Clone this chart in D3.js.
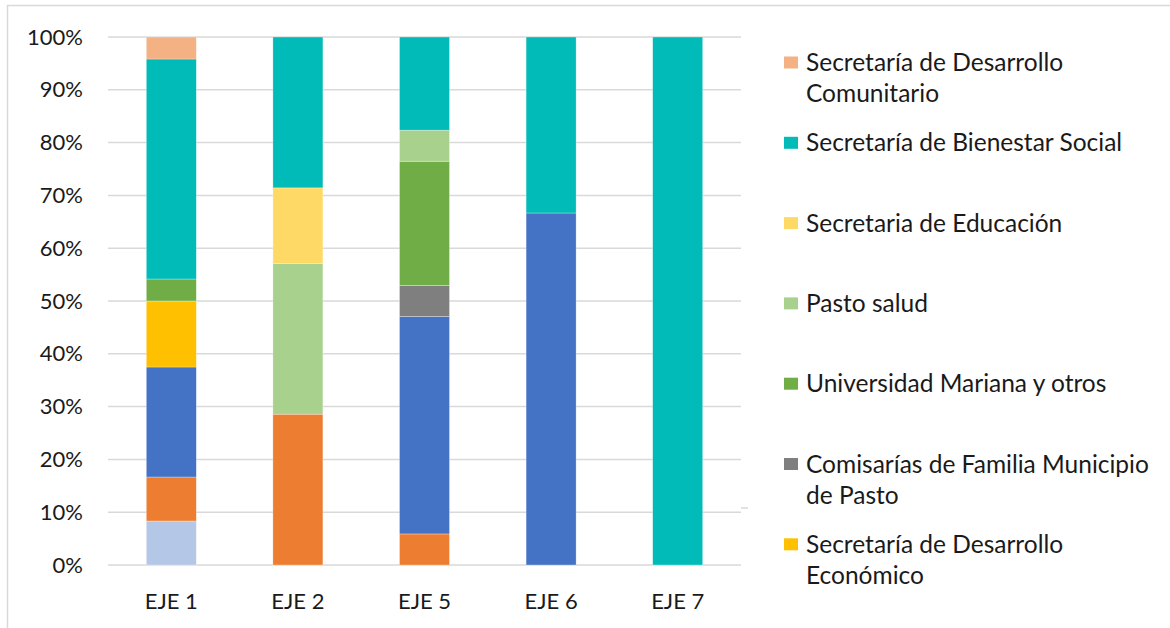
<!DOCTYPE html>
<html>
<head>
<meta charset="utf-8">
<style>
  body { margin: 0; background: white; }
  svg text { font-family: Lato, "Open Sans", sans-serif; fill: #1a1a1a; }
</style>
</head>
<body>
<svg width="1170" height="628"></svg>
<script src="https://cdn.jsdelivr.net/npm/d3@7"></script>
<script>
// categories (x axis)
var ejes = ["EJE 1", "EJE 2", "EJE 5", "EJE 6", "EJE 7"];

// series, bottom of stack first
var seriesKeys = ["s1", "s2", "s3", "desEco", "comisarias", "umariana", "pastoSalud", "educacion", "bienestar", "desCom"];
var seriesNames = ["", "", "",
  "Secretaría de Desarrollo Económico",
  "Comisarías de Familia Municipio de Pasto",
  "Universidad Mariana y otros",
  "Pasto salud",
  "Secretaria de Educación",
  "Secretaría de Bienestar Social",
  "Secretaría de Desarrollo Comunitario"];
var seriesColors = ["#b4c7e7", "#ed7d31", "#4472c4", "#ffc000", "#7f7f7f", "#70ad47", "#a9d18e", "#ffd966", "#00bbb7", "#f4b183"];

// counts per eje, one array per series (same order as ejes)
var s1         = [2, 0, 0, 0, 0];
var s2         = [2, 2, 1, 0, 0];
var s3         = [5, 0, 7, 2, 0];
var desEco     = [3, 0, 0, 0, 0];
var comisarias = [0, 0, 1, 0, 0];
var umariana   = [1, 0, 4, 0, 0];
var pastoSalud = [0, 2, 1, 0, 0];
var educacion  = [0, 1, 0, 0, 0];
var bienestar  = [10, 2, 3, 1, 1];
var desCom     = [1, 0, 0, 0, 0];

var yTicks = [0, 0.1, 0.2, 0.3, 0.4, 0.5, 0.6, 0.7, 0.8, 0.9, 1];

var valuesByKey = {s1: s1, s2: s2, s3: s3, desEco: desEco, comisarias: comisarias,
  umariana: umariana, pastoSalud: pastoSalud, educacion: educacion, bienestar: bienestar, desCom: desCom};

var table = ejes.map(function(e, i) {
  var row = {eje: e};
  seriesKeys.forEach(function(k) { row[k] = valuesByKey[k][i]; });
  return row;
});

var svg = d3.select("svg");

// outer chart border
svg.append("rect")
  .attr("x", 7.5).attr("y", 5.5)
  .attr("width", 1175).attr("height", 640)
  .attr("fill", "none").attr("stroke", "#d9d9d9").attr("stroke-width", 1.5);

var margin = {left: 108, right: 741, top: 37, bottom: 565};

var x = d3.scaleBand().domain(ejes).range([margin.left, margin.right]).paddingInner(0.605).paddingOuter(0.3025);
var y = d3.scaleLinear().domain([0, 1]).range([margin.bottom, margin.top]);

// gridlines
svg.append("g").selectAll("line")
  .data(yTicks)
  .enter().append("line")
    .attr("x1", margin.left).attr("x2", margin.right)
    .attr("y1", function(d) { return y(d); }).attr("y2", function(d) { return y(d); })
    .attr("stroke", "#d9d9d9").attr("stroke-width", 1.5);

// small stray stub at right of plot
svg.append("line").attr("x1", margin.right).attr("x2", 748).attr("y1", 508).attr("y2", 508)
  .attr("stroke", "#d9d9d9").attr("stroke-width", 1.5);

var stack = d3.stack().keys(seriesKeys).offset(d3.stackOffsetExpand);
var stacked = stack(table);

svg.append("g").selectAll("g")
  .data(stacked)
  .enter().append("g")
    .attr("fill", function(d, i) { return seriesColors[i]; })
  .selectAll("rect")
  .data(function(d) { return d; })
  .enter().append("rect")
    .attr("x", function(d) { return x(d.data.eje); })
    .attr("width", x.bandwidth())
    .attr("y", function(d) { return y(d[1]); })
    .attr("height", function(d) { return y(d[0]) - y(d[1]); })
    .attr("stroke", "white").attr("stroke-width", 0.6).attr("stroke-opacity", 0.5);

// y axis labels
var yAxis = d3.axisLeft(y).tickValues(yTicks).tickFormat(d3.format(".0%")).tickSize(0).tickPadding(25);
var gy = svg.append("g").attr("transform", "translate(" + margin.left + ",0)").call(yAxis);
gy.select(".domain").remove();
gy.selectAll("text").style("font-size", "22px").attr("fill", "#1a1a1a");

// x axis labels
var xAxis = d3.axisBottom(x).tickSize(0).tickPadding(28);
var gx = svg.append("g").attr("transform", "translate(0," + margin.bottom + ")").call(xAxis);
gx.select(".domain").remove();
gx.selectAll("text").style("font-size", "22px").attr("fill", "#1a1a1a");

// legend, top of stack first
var legendItems = [
  {key: "desCom", lines: ["Secretaría de Desarrollo", "Comunitario"]},
  {key: "bienestar", lines: ["Secretaría de Bienestar Social"]},
  {key: "educacion", lines: ["Secretaria de Educación"]},
  {key: "pastoSalud", lines: ["Pasto salud"]},
  {key: "umariana", lines: ["Universidad Mariana y otros"]},
  {key: "comisarias", lines: ["Comisarías de Familia Municipio", "de Pasto"]},
  {key: "desEco", lines: ["Secretaría de Desarrollo", "Económico"]}
];

var legend = svg.append("g").selectAll("g")
  .data(legendItems)
  .enter().append("g")
    .attr("transform", function(d, i) { return "translate(784," + (62.5 + i * 80.3) + ")"; });

legend.append("rect")
  .attr("x", 0).attr("y", -6).attr("width", 14).attr("height", 12)
  .attr("fill", function(d) { return seriesColors[seriesKeys.indexOf(d.key)]; });

legend.append("text")
  .attr("x", 22).attr("y", 8.5)
  .style("font-size", "24.5px")
  .selectAll("tspan")
  .data(function(d) { return d.lines; })
  .enter().append("tspan")
    .attr("x", 22)
    .attr("dy", function(d, i) { return i === 0 ? 0 : 31; })
    .text(function(d) { return d; });
</script>
</body>
</html>
